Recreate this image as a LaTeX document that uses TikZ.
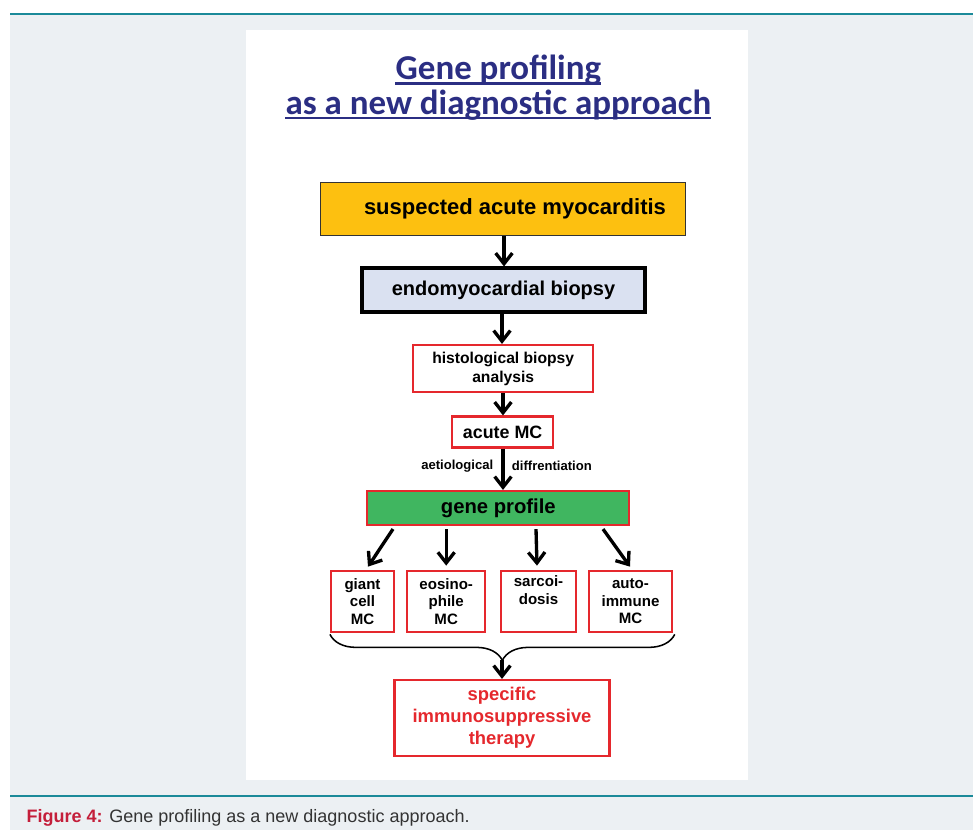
\documentclass[tikz,border=0pt]{standalone}
\usepackage{fontspec}
\setmainfont{Liberation Sans}
\newfontfamily\titlefont{Carlito}
\usetikzlibrary{arrows.meta,decorations.pathreplacing,calc}
\definecolor{bggray}{HTML}{ECF0F3}
\definecolor{tealline}{HTML}{1B8A99}
\definecolor{boxorange}{HTML}{FDC010}
\definecolor{boxlav}{HTML}{DAE1F1}
\definecolor{boxgreen}{HTML}{40B660}
\definecolor{boxred}{HTML}{E5282D}
\definecolor{titleblue}{HTML}{2B2E83}
\definecolor{capred}{HTML}{C41E3A}
\definecolor{captext}{HTML}{333333}
\tikzset{
  redbox/.style={draw=boxred, line width=1.6pt, fill=white, inner sep=0pt, align=center, font=\bfseries},
  arr/.style={line width=2.5pt, -{Straight Barb[length=8pt,width=12.5pt]}},
  titletext/.style={font=\titlefont\bfseries\fontsize{26.2}{30}\selectfont, text=titleblue, inner sep=0pt, anchor=base},
}
\begin{document}
\begin{tikzpicture}[x=0.75pt,y=-0.75pt]
\useasboundingbox (0,0) rectangle (973,830);
\fill[white] (0,0) rectangle (973,830);
\fill[bggray] (10,14) rectangle (973,830);
\draw[tealline, line width=1.5pt] (10,14) -- (973,14);
\draw[tealline, line width=1.2pt] (10,796) -- (973,796);
\fill[white] (246,30) rectangle (748,780);

\node[titletext] (t1) at (498.4,80) {Gene profiling};
\node[titletext] (t2) at (498.4,114.5) {as a new diagnostic approach};
\draw[titleblue, line width=1.6pt] ($(t1.base west)+(0,3.5)$) -- ($(t1.base east)+(0,3.5)$);
\draw[titleblue, line width=1.6pt] ($(t2.base west)+(0,3.2)$) -- ($(t2.base east)+(0,3.2)$);

\node[draw=black!80, line width=0.8pt, fill=boxorange, minimum width={365*0.75pt}, minimum height={53*0.75pt}, inner sep=0pt, font=\bfseries\fontsize{16.5}{18}\selectfont] (s1) at (503,209) {\hspace{18pt}suspected acute myocarditis};
\node[draw=black, line width=2.3pt, fill=boxlav, minimum width={283*0.75pt}, minimum height={44*0.75pt}, inner sep=0pt, font=\bfseries\fontsize{15}{17}\selectfont] (s2) at (503.5,290) {endomyocardial biopsy};
\node[redbox, minimum width={180*0.75pt}, minimum height={47*0.75pt}, font=\bfseries\fontsize{11.75}{14.3}\selectfont] (s3) at (503.2,368.5) {histological biopsy\\analysis};
\node[redbox, minimum width={101*0.75pt}, minimum height={31*0.75pt}, font=\bfseries\fontsize{13.4}{15}\selectfont] (s4) at (502.6,432) {acute MC};
\node[redbox, fill=boxgreen, minimum width={262*0.75pt}, minimum height={34*0.75pt}, font=\bfseries\fontsize{15.2}{17}\selectfont] (s5) at (498.3,508) {gene profile};

\node[font=\bfseries\fontsize{9.8}{11}\selectfont, anchor=east, inner sep=0pt] (lab1) at (493.5,466) {aetiological};
\node[font=\bfseries\fontsize{9.8}{11}\selectfont, anchor=west, inner sep=0pt] (lab2) at (511.7,466) {diffrentiation};

\draw[arr] (s1.south -| 504,0) -- (s2.north -| 504,0);
\draw[arr] (s2.south -| 502,0) -- (s3.north -| 502,0);
\draw[arr] (s3.south -| 503,0) -- (s4.north -| 503,0);
\draw[arr] (s4.south -| 503,0) -- (s5.north -| 503,0);

\tikzset{small/.style={redbox, minimum height={61.6*0.75pt}, font=\bfseries\fontsize{11.3}{13.1}\selectfont}}
\node[small, minimum width={63*0.75pt}] (g1) at (362.5,601.5) {giant\\cell\\MC};
\node[small, minimum width={77.7*0.75pt}] (g2) at (446.2,601.5) {eosino-\\phile\\MC};
\node[small, minimum width={75*0.75pt}] (g3) at (538.5,601.5) {sarcoi-\\dosis\\\strut};
\node[small, minimum width={82.4*0.75pt}] (g4) at (630.5,601.5) {auto-\\immune\\MC};

\draw[arr] ($(s5.south -| 393,0)+(0,3)$) -- ($(g1.north -| 368,0)+(0,-3)$);
\draw[arr] ($(s5.south -| g2.north)+(0,3)$) -- ($(g2.north)+(0,-4)$);
\draw[arr] ($(s5.south -| 536,0)+(0,3)$) -- ($(g3.north -| 537,0)+(0,-4)$);
\draw[arr] ($(s5.south -| 603,0)+(0,3)$) -- ($(g4.north -| 630,0)+(0,-3)$);

\draw[line width=1.15pt, decorate, decoration={brace, mirror, amplitude=19.5pt}] ($(g1.south west)+(0,1)$) -- ($(g4.south east)+(2,1)$);

\node[redbox, minimum width={215*0.75pt}, minimum height={76*0.75pt}, text=boxred, font=\bfseries\fontsize{13.8}{16.5}\selectfont] (s6) at (502,718) {specific\\immunosuppressive\\therapy};
\coordinate (btip) at (502,660);
\draw[arr] (btip) -- (s6.north -| 502,0);

\node[anchor=west, font=\fontsize{13.5}{15}\selectfont, text=captext] (cap) at (22,818) {{\color{capred}\bfseries Figure 4:} Gene profiling as a new diagnostic approach.};
\end{tikzpicture}
\end{document}
